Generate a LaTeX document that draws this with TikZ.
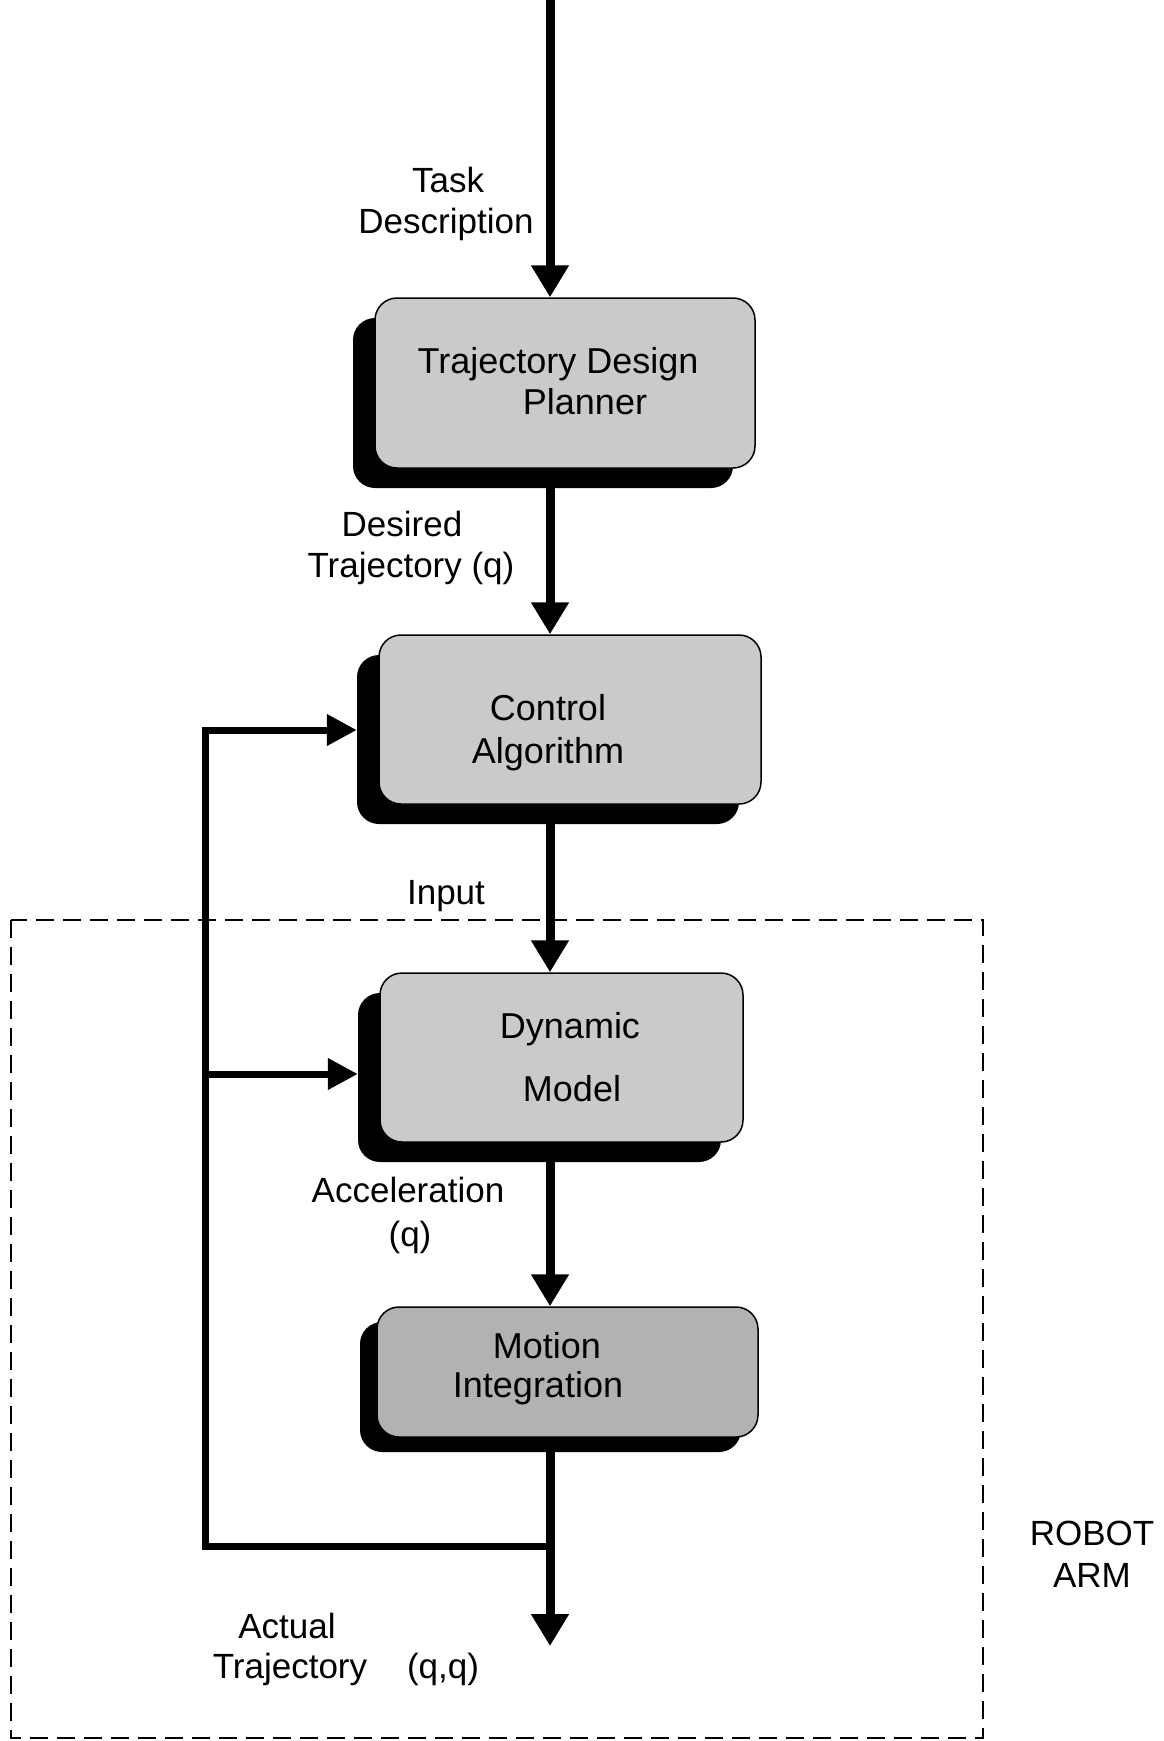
\documentclass[tikz,border=0pt]{standalone}
\usepackage{fontspec}
\setmainfont{Liberation Sans}
\usetikzlibrary{arrows.meta,calc}
\definecolor{boxgray}{RGB}{202,202,202}
\definecolor{motiongray}{RGB}{178,178,178}
\begin{document}
\begin{tikzpicture}[x=1pt,y=-1pt,
  lbl/.style={font=\fontsize{35}{40}\selectfont, inner sep=0pt},
  boxtxt/.style={font=\fontsize{36}{40}\selectfont, inner sep=0pt},
  blk/.style={draw=black, line width=1.5pt, rounded corners=22pt, inner sep=0pt},
  shadow/.style={fill=black, rounded corners=22pt, inner sep=0pt},
  mainarrow/.style={line width=9pt, -{Triangle[width=36pt,length=32pt]}},
  mainline/.style={line width=9pt},
  fbline/.style={line width=7pt},
  fbarrow/.style={line width=7pt, -{Triangle[width=30pt,length=30pt]}},
  region/.style={draw=black, line width=2.2pt, dash pattern=on 18pt off 9pt}
]
\useasboundingbox (0,0) rectangle (1164,1741);
\fill[white] (0,0) rectangle (1164,1741);

% dashed robot-arm region
\draw[region] (11,920) rectangle (983,1738);

% shadows
\node[shadow, minimum width=380pt, minimum height=170pt] (s1) at (543,403) {};
\node[shadow, minimum width=382pt, minimum height=169pt] (s2) at (548,739.5) {};
\node[shadow, minimum width=363pt, minimum height=169pt] (s3) at (539.5,1077.5) {};
\node[shadow, minimum width=381pt, minimum height=130pt] (s4) at (550.5,1387) {};

% boxes
\node[blk, fill=boxgray, minimum width=380pt, minimum height=170pt] (b1) at (565,383) {};
\node[blk, fill=boxgray, minimum width=382pt, minimum height=169pt] (b2) at (570,719.5) {};
\node[blk, fill=boxgray, minimum width=363pt, minimum height=169pt] (b3) at (561.5,1057.5) {};
\node[blk, fill=motiongray, minimum width=381pt, minimum height=130pt] (b4) at (567.5,1372) {};

% box texts
\node[boxtxt] (t1a) at (558,364) {Trajectory Design};
\node[boxtxt] (t1b) at (585,402) {Planner};
\node[boxtxt] (t2a) at (548,708) {Control};
\node[boxtxt] (t2b) at (548,754) {Algorithm};
\node[boxtxt] (t3a) at (570,1029) {Dynamic};
\node[boxtxt] (t3b) at (572,1089) {Model};
\node[boxtxt] (t4a) at (547,1346) {Motion};
\node[boxtxt] (t4b) at (538,1388) {Integration};

% main flow
\coordinate (top) at (550,0);
\coordinate (out) at (550,1646);
\coordinate (junc) at (550,1546);
\coordinate (fbx) at (205,1546);
\draw[mainarrow] (top) -- (top |- b1.north);
\draw[mainarrow] (top |- s1.south) -- (top |- b2.north);
\draw[mainarrow] (top |- s2.south) -- (top |- b3.north);
\draw[mainarrow] (top |- s3.south) -- (top |- b4.north);
\draw[mainarrow] (top |- s4.south) -- (out);

% feedback
\draw[fbline] (junc) -- (fbx) -- (205,727);
\coordinate (fb2) at (205,730);
\coordinate (fb3) at (205,1074);
\draw[fbarrow] (fb2) -- (fb2 -| s2.west);
\draw[fbarrow] (fb3) -- (fb3 -| s3.west);

% labels
\node[lbl] (task) at (448,180) {Task};
\node[lbl] (desc) at (446,224) {Description};
\node[lbl] (des1) at (402,524) {Desired};
\node[lbl] (des2) at (411,568) {Trajectory (q)};
\node[lbl] (inp) at (446,896) {Input};
\node[lbl] (acc1) at (408,1190) {Acceleration};
\node[lbl] (acc2) at (410,1237) {(q)};
\node[lbl] (act1) at (287,1626) {Actual};
\node[lbl] (act2) at (290,1669) {Trajectory};
\node[lbl] (act3) at (443,1669) {(q,q)};
\node[lbl] (rob1) at (1092,1533) {ROBOT};
\node[lbl] (rob2) at (1092,1575) {ARM};
\end{tikzpicture}
\end{document}
